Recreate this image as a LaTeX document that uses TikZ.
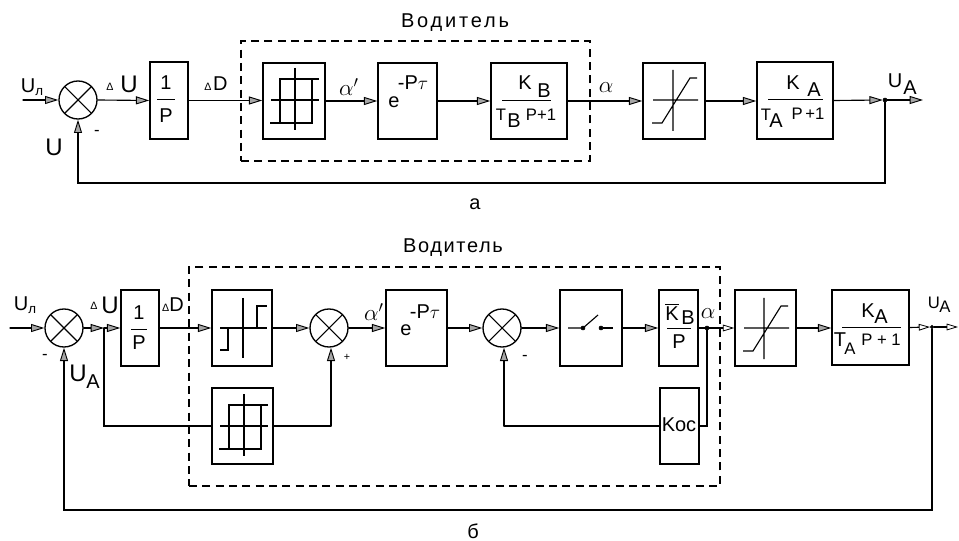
\documentclass[tikz,border=0pt]{standalone}
\usepackage{fontspec}
\setmainfont{Liberation Sans}
\usetikzlibrary{arrows.meta}
\tikzset{
  x=0.75pt,y=-0.75pt,
  wire/.style={line width=0.85pt,line cap=round},
  sig/.style={wire,-{Triangle[length=10pt,width=6pt,fill=black!35,line width=0.7pt]}},
  sigs/.style={wire,-{Triangle[length=8.5pt,width=5pt,fill=white,line width=0.6pt]}},
  blk/.style n args={2}{draw,line width=1.1pt,inner sep=0pt,minimum width=#1*0.75pt,minimum height=#2*0.75pt},
  sumn/.style={draw,circle,line width=1pt,inner sep=0pt,minimum size=28.5pt,
    path picture={\draw[line width=0.8pt] (path picture bounding box.north west)--(path picture bounding box.south east)
      (path picture bounding box.north east)--(path picture bounding box.south west);}},
  dbox/.style n args={2}{draw,line width=0.95pt,dash pattern=on 6pt off 4pt,inner sep=0pt,minimum width=#1*0.75pt,minimum height=#2*0.75pt},
  dotn/.style={draw,circle,fill=black,inner sep=0pt,minimum size=3pt},
  tg/.style={inner sep=0pt,font=\fontsize{18}{18}\selectfont},
  tl/.style={inner sep=0pt,font=\fontsize{15}{15}\selectfont},
  tm/.style={inner sep=0pt,font=\fontsize{12.5}{13}\selectfont},
  ts/.style={inner sep=0pt,font=\fontsize{8}{8}\selectfont},
  bar/.style={line width=0.75pt},
  curve/.style={line width=0.85pt},
  hystcurve/.pic={
    \draw[curve] (1,-32)--(1,30) (-23,0)--(25,0)
      (25,-21)--(-14,-21)--(-14,23) (-24,23)--(18,23)--(18,-21);},
  relaycurve/.pic={
    \draw[curve] (1,-30)--(1,30) (-22,0)--(25,0)
      (15,0)--(15,-22)--(25,-22) (-14,0)--(-14,22)--(-22,22);},
  satcurve/.pic={
    \draw[curve] (-1,-30)--(-1,31) (-21,0)--(24,0)
      (-22,23)--(-12,23)--(16,-22)--(23,-22);}
}
\begin{document}
\begin{tikzpicture}
\useasboundingbox (0,0) rectangle (959,541);
% ---------- diagram a
\node[sumn] (s1) at (78,100) {};
\node[blk={38}{77}] (i1) at (169,100.5) {};
\node[dbox={349}{120}] (drv1) at (415.5,101) {};
\node[blk={62}{76}] (hy1) at (294,101) {};
\node[blk={59}{76}] (de1) at (407.5,101) {};
\node[blk={76}{76}] (kb1) at (529,101) {};
\node[blk={62}{76}] (sa1) at (674,101) {};
\node[blk={76}{77}] (ka1) at (795,100.5) {};
\node[dotn] (j1) at (885,100) {};
\coordinate (in1) at (23,100);
\coordinate (out1) at (923,100);
\coordinate (fb1) at (885,183);
\pic at (294,100) {hystcurve};
\pic at (674,100) {satcurve};
\draw[sig] (in1) -- (s1.west);
\draw[sig] (s1.east) -- (i1.west);
\draw[sig] (i1.east) -- (hy1.west |- i1.east);
\draw[sig] (hy1.east) -- (de1.west);
\draw[sig] (de1.east) -- (kb1.west);
\draw[sig] (kb1.east) -- (sa1.west);
\draw[sig] (sa1.east) -- (ka1.west |- sa1.east);
\draw[sig] (ka1.east) -- (j1.west);
\draw[sig] (j1.east) -- (out1);
\draw[sig] (j1.south) -- (fb1) -| (s1.south);
\node[tl] (t1) at (32,87) {U\raisebox{-2pt}{\fontsize{10}{10}\selectfont л}};
\node[ts] (t2) at (110,87) {Δ};
\node[tg] (t3) at (129,84) {U};
\node[tg] (t4) at (54,147) {U};
\node[tm] (t5) at (97,133) {-};
\node[tl] (t6) at (166,83) {1};
\draw[bar] (157,100) -- (175,100);
\node[tl] (t7) at (166,116) {P};
\node[tl] (t8) at (216,84) {\fontsize{8}{8}\selectfont Δ\,\fontsize{15}{15}\selectfont D};
\node[tg] (t9) at (349,87) {$\alpha'$};
\node[tl] (t10) at (394,102) {e};
\node[tl] (t11) at (413,83) {-P$\tau$};
\node[tl] (t12) at (525,83) {K};
\node[tl] (t13) at (544,91) {B};
\draw[bar] (502,101) -- (551,101);
\node[tm] (t14) at (501,115) {T};
\node[tl] (t15) at (514,121) {B};
\node[tm] (t16) at (541,115) {P+1};
\node[tg] (t17) at (606,88) {$\alpha$};
\node[tl] (t18) at (793,83) {K};
\node[tl] (t19) at (814,90) {A};
\draw[bar] (768,100) -- (823,100);
\node[tm] (t20) at (766,115) {T};
\node[tl] (t21) at (776,121) {A};
\node[tm] (t22) at (808,114) {P\,+1};
\node[tl] (t23) at (895,81) {U};
\node[tl] (t24) at (910,88) {A};
\node[tl] (t25) at (455,23) {\addfontfeature{LetterSpace=14}Водитель};
\node[tl] (t26) at (475,204) {а};
% ---------- diagram b
\node[sumn] (s2) at (64,328) {};
\node[blk={38}{76}] (i2) at (140,328) {};
\node[dbox={531}{219}] (drv2) at (454.5,376.5) {};
\node[blk={60}{76}] (re2) at (242,328) {};
\node[blk={61}{76}] (hy2) at (242.5,426) {};
\node[sumn] (s3) at (329,328) {};
\node[blk={61}{76}] (de2) at (416.5,328) {};
\node[sumn] (s4) at (502,328) {};
\node[blk={62}{76}] (sw2) at (591,328) {};
\node[blk={39}{76}] (kb2) at (678.5,328) {};
\node[blk={39}{76}] (ko2) at (679.5,426) {};
\node[blk={61}{76}] (sa2) at (765.5,328) {};
\node[blk={77}{75}] (ka2) at (870.5,327.5) {};
\coordinate (in2) at (10,328);
\coordinate (br2) at (104,328);
\coordinate (co2) at (104,426);
\coordinate (sc2) at (331,426);
\coordinate (kr2) at (707,426);
\node[dotn] (j2) at (707,328) {};
\node[dotn,minimum size=2.5pt] (j3) at (932,327) {};
\coordinate (out2) at (958,327);
\coordinate (fb2) at (932,510);
\coordinate (sc3) at (504,426);
\pic at (242,328) {relaycurve};
\pic at (243,426) {hystcurve};
\pic at (765,328) {satcurve};
\draw[curve] (568,328) -- (583,328) -- (598,315);
\node[dotn] (sa) at (583,328) {};
\node[dotn] (sb) at (601,328) {};
\draw[curve] (sb.east) -- (613,328);
\draw[sig] (in2) -- (s2.west);
\draw[sig] (s2.east) -- (br2);
\draw[sig] (br2) -- (i2.west);
\draw[sig] (i2.east) -- (re2.west);
\draw[sig] (re2.east) -- (s3.west);
\draw[sig] (s3.east) -- (de2.west);
\draw[sig] (de2.east) -- (s4.west);
\draw[sig] (s4.east) -- (sw2.west);
\draw[sig] (sw2.east) -- (kb2.west);
\draw[sigs] (kb2.east) -- (sa2.west);
\draw[sig] (sa2.east) -- (ka2.west |- sa2.east);
\draw[sigs] (ka2.east) -- (j3.west);
\draw[sigs] (j3.east) -- (out2);
\draw[wire] (br2) -- (co2) -- (hy2.west);
\draw[wire] (hy2.east) -- (sc2);
\draw[sig] (sc2) -- (s3.south -| sc2);
\draw[wire] (j2.south) -- (kr2) -- (ko2.east);
\draw[wire] (ko2.west) -- (sc3);
\draw[sig] (sc3) -- (s4.south -| sc3);
\draw[sig] (j3.south) -- (fb2) -| (s2.south);
\node[tl] (u1) at (25,305) {U\raisebox{-2pt}{\fontsize{10}{10}\selectfont л}};
\node[ts] (u2) at (94,306) {Δ};
\node[tg] (u3) at (110,305) {U};
\node[tm] (u4) at (45,357) {-};
\node[tg] (u5) at (78,373) {U};
\node[tl] (u6) at (93,382) {A};
\node[tl] (u7) at (139,313) {1};
\draw[bar] (131,329) -- (147,329);
\node[tl] (u8) at (139,343) {P};
\node[tl] (u9) at (173,305) {\fontsize{8}{8}\selectfont Δ\fontsize{15}{15}\selectfont D};
\node[tg] (u10) at (374,312) {$\alpha'$};
\node[ts] (u11) at (347,357) {+};
\node[tl] (u12) at (406,330) {e};
\node[tl] (u13) at (425,312) {-P$\tau$};
\node[tm] (u14) at (525,358) {-};
\node[tl] (u15) at (672,312) {$\overline{\mathrm{K}}$};
\node[tl] (u16) at (688,318) {B};
\draw[bar] (667,328) -- (691,328);
\node[tl] (u17) at (679,342) {P};
\node[tg] (u18) at (708,314) {$\alpha$};
\node[tl] (u19) at (679,425) {Koc};
\node[tl] (u20) at (868,311) {K};
\node[tl] (u21) at (881,317) {A};
\draw[bar] (842,327) -- (901,327);
\node[tl] (u22) at (840,340) {T};
\node[tm] (u23) at (850,349) {A};
\node[tm] (u24) at (881,340) {P + 1};
\node[tm] (u25) at (934,303) {U};
\node[tm] (u26) at (945,307) {A};
\node[tl] (u27) at (453,248) {\addfontfeature{LetterSpace=8}Водитель};
\node[tl] (u28) at (473,531) {б};
\end{tikzpicture}
\end{document}
